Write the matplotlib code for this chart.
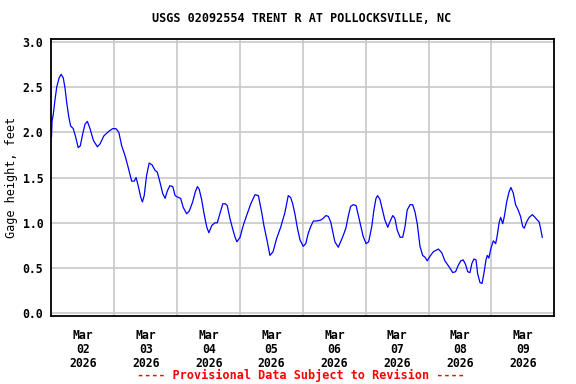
import numpy as np
import pandas as pd
import matplotlib
matplotlib.use("Agg")
import matplotlib.pyplot as plt
import matplotlib.dates as mdates

# gage readings: hours since 2026-03-02 00:00, stage in feet
hours = [0.0, 0.2, 0.7, 1.3, 2.0, 2.9, 3.7, 4.5, 5.2, 5.8, 6.6, 7.3, 8.3, 9.2, 10.2, 11.0,
         11.9, 12.8, 13.7, 14.7, 16.0, 17.5, 18.5, 20.0, 21.1, 22.3, 23.4, 24.6, 25.7,
         26.8, 28.1, 29.3, 30.6, 31.6, 32.3, 33.1, 34.1, 34.7, 35.4, 36.3, 37.3, 38.4,
         39.5, 40.4, 41.4, 42.5, 43.4, 44.2, 45.2, 46.3, 47.2, 48.4, 49.3, 50.3, 51.6,
         52.6, 53.9, 54.9, 55.7, 56.4, 57.3, 58.2, 59.3, 60.1, 61.2, 62.4, 63.3, 64.3,
         65.4, 66.4, 67.1, 68.2, 69.2, 70.1, 70.8, 72.0, 73.2, 74.5, 76.1, 77.7, 79.0,
         80.3, 81.1, 82.2, 83.4, 84.6, 86.0, 87.5, 89.1, 90.4, 91.3, 92.1, 93.0, 93.9,
         94.9, 96.1, 97.1, 98.0, 99.0, 100.0, 101.3, 102.8, 103.8, 104.8, 105.7, 106.6,
         107.4, 108.2, 109.5, 110.4, 111.4, 112.4, 113.3, 114.2, 115.2, 116.3, 117.1,
         118.1, 119.0, 120.1, 121.1, 122.3, 123.1, 123.9, 124.5, 125.4, 126.4, 127.3,
         128.4, 129.2, 130.3, 131.1, 132.0, 133.1, 134.1, 135.0, 135.8, 136.9, 137.9,
         138.8, 139.7, 140.7, 141.7, 142.6, 143.5, 144.5, 145.8, 147.7, 149.0, 150.2,
         151.9, 153.2, 154.3, 155.3, 156.3, 157.2, 158.1, 158.9, 159.8, 160.5, 161.3,
         162.1, 162.7, 163.6, 164.4, 165.1, 165.9, 166.4, 167.0, 167.8, 168.7, 169.6,
         170.2, 170.9, 171.5, 172.3, 172.9, 173.8, 174.7, 175.4, 176.3, 177.2, 178.2,
         179.1, 179.9, 180.5, 181.4, 182.4, 183.6, 184.6, 185.5, 186.2, 186.8, 187.4]
gage_ft = [1.95, 2.12, 2.20, 2.35, 2.50, 2.60, 2.64, 2.60, 2.48, 2.33, 2.17, 2.07, 2.04,
           1.95, 1.83, 1.85, 1.98, 2.09, 2.12, 2.04, 1.91, 1.84, 1.87, 1.96, 1.99, 2.02,
           2.04, 2.04, 2.00, 1.85, 1.74, 1.61, 1.46, 1.46, 1.50, 1.41, 1.28, 1.23, 1.30,
           1.52, 1.66, 1.64, 1.58, 1.56, 1.45, 1.32, 1.27, 1.35, 1.41, 1.40, 1.30, 1.28,
           1.27, 1.17, 1.10, 1.13, 1.23, 1.34, 1.40, 1.37, 1.26, 1.11, 0.95, 0.89, 0.97,
           1.00, 1.00, 1.10, 1.21, 1.21, 1.19, 1.04, 0.93, 0.84, 0.79, 0.84, 0.97, 1.08,
           1.21, 1.31, 1.30, 1.11, 0.97, 0.82, 0.64, 0.68, 0.83, 0.95, 1.11, 1.30, 1.28,
           1.21, 1.09, 0.94, 0.81, 0.74, 0.77, 0.88, 0.96, 1.02, 1.02, 1.03, 1.05, 1.08,
           1.07, 1.01, 0.90, 0.79, 0.73, 0.79, 0.86, 0.94, 1.07, 1.18, 1.20, 1.19, 1.09,
           0.96, 0.85, 0.77, 0.79, 0.96, 1.14, 1.27, 1.30, 1.26, 1.14, 1.03, 0.95, 1.01,
           1.08, 1.05, 0.92, 0.84, 0.84, 0.96, 1.14, 1.20, 1.20, 1.12, 0.98, 0.74, 0.64,
           0.62, 0.58, 0.63, 0.68, 0.71, 0.67, 0.58, 0.51, 0.45, 0.46, 0.53, 0.58, 0.59,
           0.54, 0.46, 0.45, 0.55, 0.60, 0.59, 0.44, 0.34, 0.33, 0.44, 0.59, 0.64, 0.61,
           0.72, 0.80, 0.77, 0.86, 1.00, 1.06, 0.99, 1.07, 1.23, 1.34, 1.39, 1.33, 1.20,
           1.14, 1.07, 0.96, 0.94, 1.01, 1.06, 1.09, 1.06, 1.03, 1.01, 0.93, 0.84]

START = pd.Timestamp("2026-03-02 00:00")
times = START + pd.to_timedelta(hours, unit="h")

FONT = "DejaVu Sans Mono"
plt.rcParams.update({"font.family": FONT, "font.weight": "bold", "font.size": 8})

fig = plt.figure(figsize=(5.76, 3.84), dpi=100)
ax = fig.add_axes([0.0894, 0.177, 0.873, 0.7207])

ax.plot(times, gage_ft, color="#0000ff", lw=0.9)

ax.set_xlim(START, START + pd.Timedelta(days=8))
ax.set_ylim(-0.03, 3.027)
ax.set_yticks(np.arange(0, 3.01, 0.5))
ax.yaxis.set_major_formatter(matplotlib.ticker.FormatStrFormatter("%.1f"))

ax.xaxis.set_major_locator(mdates.DayLocator())
ax.xaxis.set_major_formatter(matplotlib.ticker.NullFormatter())
ax.xaxis.set_minor_locator(mdates.HourLocator(byhour=[12]))
ax.xaxis.set_minor_formatter(mdates.DateFormatter("%b\n%d\n%Y"))

ax.grid(True, which="major", color="#c8c8c8", lw=1.2)
ax.set_axisbelow(True)
ax.tick_params(which="both", length=0)
ax.tick_params(axis="y", pad=6, labelsize=8.3)
ax.tick_params(axis="x", which="minor", pad=9, labelsize=8.3)
for lbl in ax.xaxis.get_minorticklabels():
    lbl.set_linespacing(1.1)
for s in ax.spines.values():
    s.set_linewidth(1.3)

ax.set_ylabel("Gage height, feet", fontsize=8.5)
ax.yaxis.set_label_coords(-0.066, 0.5)
fig.text(0.523, 0.951, "USGS 02092554 TRENT R AT POLLOCKSVILLE, NC", ha="center",
         va="center", fontsize=8.5)
fig.text(0.523, 0.023, "---- Provisional Data Subject to Revision ----", ha="center",
         va="center", fontsize=8.5, color="red")

fig.savefig("out.png", dpi=100)
